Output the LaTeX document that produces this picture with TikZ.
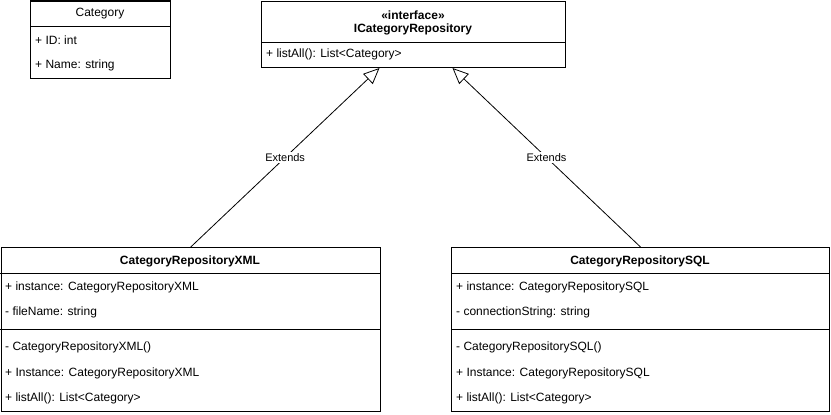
\documentclass[tikz,border=0pt]{standalone}
\usepackage{fontspec}
\setmainfont{Liberation Sans}
\usetikzlibrary{arrows.meta}

\tikzset{
  classbox/.style={draw, line width=1pt, anchor=north west, inner sep=0pt},
  member/.style={anchor=west, inner sep=0pt, font=\fontsize{12}{14}\selectfont},
  classname/.style={inner sep=0pt, font=\fontsize{12}{14}\selectfont\bfseries},
  extends/.style={draw, line width=0.8pt, -{Triangle[open, length=16pt, width=14pt]}},
  extlabel/.style={fill=white, inner sep=1.5pt, font=\fontsize{11}{13}\selectfont},
}

\begin{document}
\begin{tikzpicture}[x=1pt, y=-1pt]

\useasboundingbox (0,0) rectangle (831,415);

% Category
\node[classbox, minimum width=140pt, minimum height=77.5pt] (category) at (30,0.5) {};
\draw[line width=1pt] (30,26) -- (170,26);
\node[member, anchor=center] (cattitle) at (100,14) {Category};
\node[member] (catid) at (35,40) {+ ID: int};
\node[member] (catname) at (35,65) {+ Name: string};

% interface
\node[classbox, minimum width=304pt, minimum height=66.5pt] (iface) at (261,0.5) {};
\draw[line width=1pt] (261,42) -- (565,42);
\node[classname] (stereo) at (413,15) {«interface»};
\node[classname] (ifacetitle) at (413,29) {ICategoryRepository};
\node[member] (ifacelist) at (266,54) {+ listAll(): List<Category>};

% XML repository
\node[classbox, minimum width=379.5pt, minimum height=164pt] (xml) at (0.5,247) {};
\draw[line width=1pt] (0,273) -- (380,273)
                      (0,329) -- (380,329);
\node[classname] (xmltitle) at (190,261) {CategoryRepositoryXML};
\node[member] (xmlinst) at (5,287) {+ instance: CategoryRepositoryXML};
\node[member] (xmlfile) at (5,312) {- fileName: string};
\node[member] (xmlctor) at (5,347) {- CategoryRepositoryXML()};
\node[member] (xmlget) at (5,373) {+ Instance: CategoryRepositoryXML};
\node[member] (xmllist) at (5,398) {+ listAll(): List<Category>};

% SQL repository
\node[classbox, minimum width=378pt, minimum height=164pt] (sql) at (451,247) {};
\draw[line width=1pt] (451,273) -- (829,273)
                      (451,329) -- (829,329);
\node[classname] (sqltitle) at (640,261) {CategoryRepositorySQL};
\node[member] (sqlinst) at (456,287) {+ instance: CategoryRepositorySQL};
\node[member] (sqlconn) at (456,312) {- connectionString: string};
\node[member] (sqlctor) at (456,347) {- CategoryRepositorySQL()};
\node[member] (sqlget) at (456,373) {+ Instance: CategoryRepositorySQL};
\node[member] (sqllist) at (456,398) {+ listAll(): List<Category>};

% generalisation
\draw[extends] (xml.north) -- node[extlabel] (extxml) {Extends} ([xshift=-34pt]iface.south);
\draw[extends] (sql.north) -- node[extlabel] (extsql) {Extends} ([xshift=39pt]iface.south);

\end{tikzpicture}
\end{document}
